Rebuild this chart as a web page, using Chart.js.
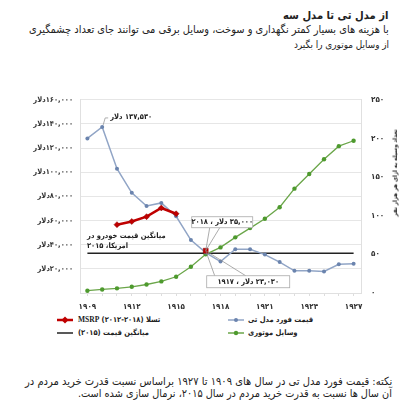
<!DOCTYPE html>
<html lang="fa">
<head>
<meta charset="utf-8">
<script src="https://cdn.jsdelivr.net/npm/chart.js@4.4.1/dist/chart.umd.min.js"></script>
<style>
  body { margin: 0; background: #fff; }
  #page { position: relative; width: 418px; height: 418px; overflow: hidden; font-family: "DejaVu Sans Condensed", "DejaVu Sans", sans-serif; color: #222; }
  .ln { position: absolute; white-space: nowrap; line-height: 1; display: block; }
  #chartBox { position: absolute; left: 0; top: 85px; width: 418px; height: 230px; }
  #mainChart { direction: rtl; }
  #yTitle { position: absolute; white-space: nowrap; line-height: 1; font-weight: bold; transform: translate(-50%, -50%) rotate(-90deg); }
  .lgs { position: absolute; }
  .lg { position: absolute; white-space: nowrap; font-size: 7.5px; line-height: 10px; font-weight: bold; }
</style>
</head>
<body>
<div id="page" dir="rtl">
  <span class="ln fit" dir="rtl" data-w="106" data-r="388" data-y="15" style="font-weight:bold">از مدل تی تا مدل سه</span>
  <span class="ln fit" dir="rtl" data-w="360" data-r="389" data-y="30">با هزینه های بسیار کمتر نگهداری و سوخت، وسایل برقی می توانند جای تعداد چشمگیری</span>
  <span class="ln fit" dir="rtl" data-w="95" data-r="389" data-y="45">از وسایل موتوری را بگیرد</span>

  <div id="chartBox"><canvas id="mainChart"></canvas></div>
  <span id="yTitle" dir="rtl">تعداد وسیله به ازای هر هزار نفر</span>

  <svg class="lgs" style="left:57px;top:315px" width="16" height="10"><line x1="0" y1="5" x2="16" y2="5" stroke="#C00000" stroke-width="2.5"/><rect x="5.5" y="2.5" width="5" height="5" fill="#C00000" transform="rotate(45 8 5)"/></svg>
  <span class="lg" dir="rtl" style="left:78px;top:315px">تسلا <span style="font-family:'Liberation Serif'">MSRP</span> (۲۰۱۲-۲۰۱۸)</span>
  <svg class="lgs" style="left:57px;top:328px" width="16" height="10"><line x1="0" y1="5" x2="16" y2="5" stroke="#222" stroke-width="1.5"/></svg>
  <span class="lg" dir="rtl" style="left:78px;top:328px">میانگین قیمت (۲۰۱۵)</span>
  <svg class="lgs" style="left:228px;top:315px" width="16" height="10"><line x1="0" y1="5" x2="16" y2="5" stroke="#91A5C6" stroke-width="1.5"/><circle cx="8" cy="5" r="2" fill="#6B84AE"/></svg>
  <span class="lg" dir="rtl" style="left:248px;top:315px">قیمت فورد مدل تی</span>
  <svg class="lgs" style="left:228px;top:328px" width="16" height="10"><line x1="0" y1="5" x2="16" y2="5" stroke="#6BA64A" stroke-width="1.5"/><circle cx="8" cy="5" r="2.2" fill="#4E9A2E"/></svg>
  <span class="lg" dir="rtl" style="left:248px;top:328px">وسایل موتوری</span>

  <span class="ln fit" dir="rtl" data-w="367" data-r="392" data-y="381">نکته: قیمت فورد مدل تی در سال های ۱۹۰۹ تا ۱۹۲۷ براساس نسبت قدرت خرید مردم در</span>
  <span class="ln fit" dir="rtl" data-w="314" data-r="392" data-y="394">آن سال ها نسبت به قدرت خرید مردم در سال ۲۰۱۵، نرمال سازی شده است.</span>
</div>
<script>
// data
const years = ["۱۹۰۹", "۱۹۱۰", "۱۹۱۱", "۱۹۱۲", "۱۹۱۳", "۱۹۱۴", "۱۹۱۵", "۱۹۱۶", "۱۹۱۷", "۱۹۱۸",
  "۱۹۱۹", "۱۹۲۰", "۱۹۲۱", "۱۹۲۲", "۱۹۲۳", "۱۹۲۴", "۱۹۲۵", "۱۹۲۶", "۱۹۲۷"];
const fordPrice = [128000, 137530, 103000, 83000, 72000, 74600, 63500, 43800, 33500, 26000,
  36200, 36200, 31800, 25600, 18400, 18400, 17800, 23800, 24200];
const teslaPrice = [null, null, 56600, 59200, 63200, 70400, 65600, null, 35000, null,
  null, null, null, null, null, null, null, null, null];
const avgPrice = [33000, 33000, 33000, 33000, 33000, 33000, 33000, 33000, 33000, 33000,
  33000, 33000, 33000, 33000, 33000, 33000, 33000, 33000, 33000];
const vehicles = [3, 4.6, 6, 8, 11, 15, 21, 34, 50, 59, 72, 84, 96, 111, 135, 154, 173, 190, 197];

const faDigits = "۰۱۲۳۴۵۶۷۸۹";
let toFa = (s) => String(s).replace(/[0-9]/g, (d) => faDigits[d]);

const FONT = "'DejaVu Sans Condensed', 'DejaVu Sans'";

// size each text line so it spans the same width as in the picture
document.querySelectorAll(".fit").forEach((el) => {
  el.style.fontSize = "10px";
  let size = (10 * Number(el.dataset.w)) / el.offsetWidth;
  el.style.fontSize = size + "px";
  el.style.left = Number(el.dataset.r) - el.offsetWidth + "px";
  el.style.top = Number(el.dataset.y) - el.offsetHeight / 2 + "px";
});

// right axis title, rotated
let yTitle = document.getElementById("yTitle");
yTitle.style.fontSize = "10px";
yTitle.style.fontSize = (10 * 87) / yTitle.offsetWidth + "px";
yTitle.style.left = "395px";
yTitle.style.top = "173px";

// labels and leader lines drawn over the lines
const notesPlugin = {
  id: "notes",
  afterDatasetsDraw(chart) {
    const ctx = chart.ctx;
    const x = chart.scales.x;
    const y = chart.scales.y;
    ctx.save();
    ctx.font = "bold 7.5px " + FONT;
    ctx.fillStyle = "#222";
    ctx.textBaseline = "middle";

    // peak price
    let px = x.getPixelForValue(1);
    let py = y.getPixelForValue(fordPrice[1]);
    ctx.strokeStyle = "#999";
    ctx.lineWidth = 0.8;
    ctx.beginPath();
    ctx.moveTo(px + 1, py - 2);
    ctx.lineTo(px + 3, py - 9);
    ctx.lineTo(px + 6, py - 9);
    ctx.stroke();
    ctx.textAlign = "left";
    ctx.fillText("۱۳۷,۵۳۰ دلار", px + 8, py - 10);

    // average price text
    let ay = y.getPixelForValue(avgPrice[0]);
    ctx.fillText("میانگین قیمت خودرو در", chart.chartArea.left + 7, ay - 17);
    ctx.fillText("امریکا، ۲۰۱۵", chart.chartArea.left + 7, ay - 7);

    // model 3 / 1917 boxes
    let mx = x.getPixelForValue(8);
    let my = y.getPixelForValue(teslaPrice[8]);
    ctx.strokeStyle = "#888";
    ctx.lineWidth = 0.7;
    ctx.beginPath();
    ctx.moveTo(mx, my); ctx.lineTo(mx + 4, my - 23);
    ctx.moveTo(mx, my); ctx.lineTo(mx + 14, my - 23);
    ctx.moveTo(mx, my); ctx.lineTo(mx + 9, my + 25);
    ctx.moveTo(mx, my); ctx.lineTo(mx + 40, my + 25);
    ctx.stroke();

    ctx.textAlign = "center";
    ctx.fillStyle = "#fff";
    ctx.strokeStyle = "#aaa";
    ctx.lineWidth = 0.8;
    ctx.fillRect(mx - 14, my - 34, 61, 11);
    ctx.strokeRect(mx - 14, my - 34, 61, 11);
    ctx.fillRect(mx + 1, my + 25, 83, 12);
    ctx.strokeRect(mx + 1, my + 25, 83, 12);
    ctx.fillStyle = "#222";
    ctx.fillText("۳۵,۰۰۰ دلار ، ۲۰۱۸", mx - 14 + 30.5, my - 28.5);
    ctx.fillText("۲۳,۰۳۰ دلار ، ۱۹۱۷", mx + 1 + 41.5, my + 31);
    ctx.restore();
  },
};

const configData = {
  labels: years,
  datasets: [
    {
      label: "تسلا MSRP (۲۰۱۲-۲۰۱۸)",
      data: teslaPrice,
      yAxisID: "y",
      borderColor: "#C00000",
      backgroundColor: "#C00000",
      borderWidth: 2.5,
      pointStyle: ["rectRot", "rectRot", "rectRot", "rectRot", "rectRot", "rectRot", "rectRot", "rectRot", "rect"],
      pointRadius: [3, 3, 3, 3, 3, 3, 3, 3, 3.5],
      pointBorderColor: "#8B0000",
      pointBorderWidth: 0.5,
      spanGaps: false,
      order: 0,
    },
    {
      label: "قیمت فورد مدل تی",
      data: fordPrice,
      yAxisID: "y",
      borderColor: "#91A5C6",
      backgroundColor: "#6B84AE",
      borderWidth: 1.5,
      pointRadius: 2,
      pointBorderWidth: 0,
      order: 1,
    },
    {
      label: "وسایل موتوری",
      data: vehicles,
      yAxisID: "y2",
      borderColor: "#6BA64A",
      backgroundColor: "#4E9A2E",
      borderWidth: 1.3,
      pointRadius: 2.2,
      pointBorderWidth: 0,
      order: 2,
    },
    {
      label: "میانگین قیمت (۲۰۱۵)",
      data: avgPrice,
      yAxisID: "y",
      borderColor: "#222",
      borderWidth: 1.5,
      pointRadius: 0,
      order: 3,
    },
  ],
};

let config = {
  type: "line",
  data: configData,
  options: {
    responsive: false,
    animation: false,
    events: [],
    layout: { padding: { top: 8, left: 0, right: 0, bottom: 0 } },
    plugins: {
      legend: { display: false },
      title: { display: false },
      tooltip: { enabled: false },
    },
    scales: {
      x: {
        offset: true,
        grid: { display: true, drawOnChartArea: false, tickLength: 3, color: "#ddd" },
        border: { color: "#e0e0e0" },
        ticks: {
          autoSkip: false,
          maxRotation: 0,
          padding: 6,
          color: "#333",
          font: { family: FONT, size: 8, weight: "bold" },
          callback: (v, i) => (i % 3 === 0 ? years[i] : ""),
        },
        afterFit: (s) => { s.height = 22; },
      },
      y: {
        position: "left",
        min: 0,
        max: 160000,
        grid: { color: "#e6e6e6", drawTicks: false },
        border: { color: "#e0e0e0" },
        ticks: {
          stepSize: 20000,
          padding: 7,
          color: "#333",
          font: { family: FONT, size: 7.5, weight: "bold" },
          callback: (v) => (v === 0 ? "" : toFa(v.toLocaleString("en-US")) + "دلار"),
        },
        afterFit: (s) => { s.width = 80; },
      },
      y2: {
        position: "right",
        min: 0,
        max: 250,
        grid: { display: false, drawTicks: false },
        border: { color: "#e0e0e0" },
        ticks: {
          stepSize: 50,
          padding: 10,
          color: "#333",
          font: { family: FONT, size: 8, weight: "bold" },
          callback: (v) => toFa(v),
        },
        afterFit: (s) => { s.width = 57; },
      },
    },
  },
  plugins: [notesPlugin],
};

let canvas = document.getElementById("mainChart");
canvas.width = 418;
canvas.height = 230;
let mainChart = new Chart(canvas, config);
</script>
</body>
</html>
